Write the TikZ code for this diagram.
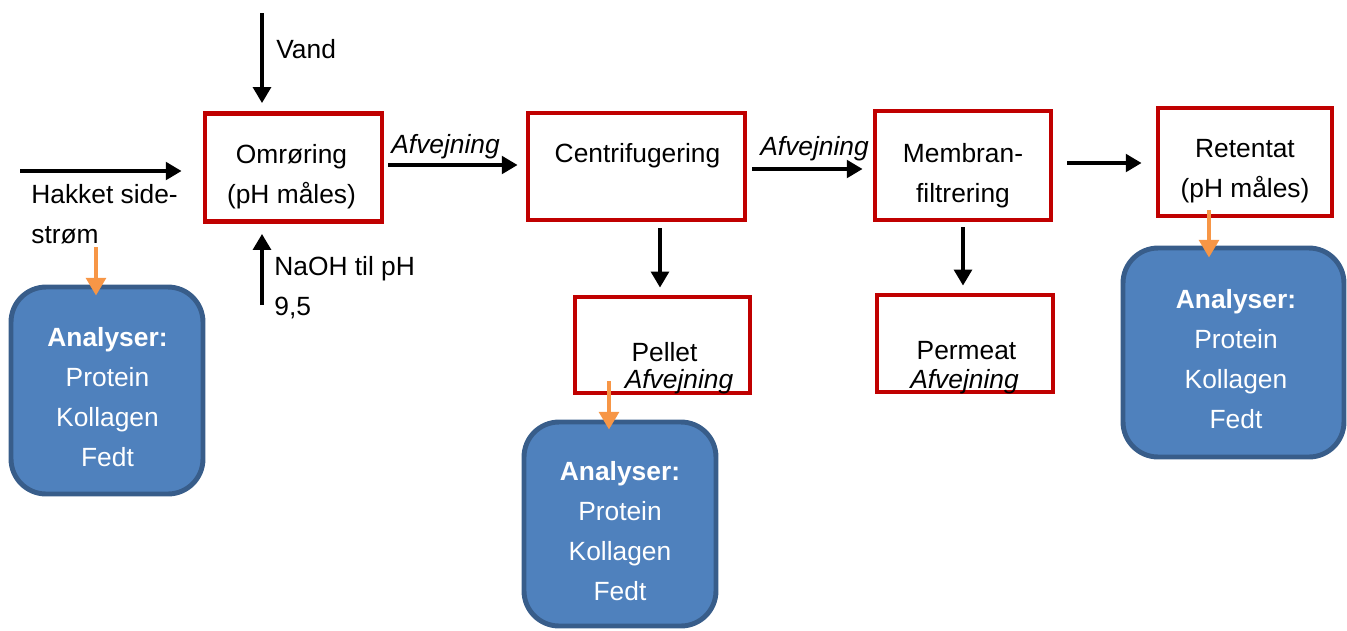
\documentclass[tikz,border=0pt]{standalone}
\usepackage{fontspec}
\setmainfont{Liberation Sans}
\usetikzlibrary{arrows.meta,calc}

\definecolor{boxred}{HTML}{C00000}
\definecolor{anfill}{HTML}{4F81BD}
\definecolor{anline}{HTML}{385D8A}
\definecolor{probe}{HTML}{F79646}

\begin{document}
\begin{tikzpicture}[x=0.02cm, y=-0.02cm, font=\fontsize{15}{22.7}\selectfont]

\useasboundingbox (0,0) rectangle (1347,630);

%% setup styles for the flow sheet
\tikzstyle{stepbox}=[draw=boxred, line width=2.8pt, inner sep=0pt]
\tikzstyle{anbox}=[draw=anline, fill=anfill, line width=2.8pt, rounded corners=0.7cm, inner sep=0pt]
\tikzstyle{antext}=[text=white, align=center, anchor=base, inner sep=0pt]
\tikzstyle{flow}=[line width=2.1pt, -{Triangle[length=9pt,width=10pt]}]
\tikzstyle{sample}=[draw=probe, line width=2.8pt, -{Triangle[length=10pt,width=11pt]}]
\tikzstyle{lbl}=[anchor=base west, inner sep=0pt, align=left]
\tikzstyle{ctr}=[anchor=base, inner sep=0pt, align=center]

%% process steps (red boxes)
\foreach \name/\x/\y/\w/\h in {omr/293.5/167.5/3.54/2.16,
cen/636.5/166.5/4.34/2.14,
mem/963/165.5/3.52/2.18,
ret/1245/162/3.48/2.16,
pel/662.5/345/3.50/1.92,
per/965/343.5/3.52/1.94}{
\node[stepbox, minimum width=\w cm, minimum height=\h cm] (\name) at (\x,\y) {};}

%% analysis boxes (blue), text placed on the baseline of its last line
\foreach \name/\x/\y/\w/\h in {an1/107/390.5/3.84/4.14,
an2/620/524/3.84/4.08,
an3/1233.5/352.5/4.42/4.18}{
\node[anbox, minimum width=\w cm, minimum height=\h cm] (\name) at (\x,\y) {};}

\foreach \name/\x/\y in {an1/107.5/466, an2/620/600, an3/1236/428}{
\node[antext] (\name-txt) at (\x,\y) {\textbf{Analyser:}\\Protein\\Kollagen\\Fedt};}

% texts in the process boxes
\node[ctr] (omr-txt) at (291.5,203) {Omrøring\\(pH måles)};
\node[ctr] (cen-txt) at (637.5,162) {Centrifugering};
\node[ctr] (mem-txt) at (963,202) {Membran-\\filtrering};
\node[ctr] (ret-txt) at (1245,197) {Retentat\\(pH måles)};
\node[ctr] (pel-txt) at (664.5,361) {Pellet};
\node[ctr] (pel-w) at (679,388) {\textit{Afvejning}};
\node[ctr] (per-txt) at (966.5,359) {Permeat};
\node[ctr] (per-w) at (964.5,388) {\textit{Afvejning}};

% free labels
\node[lbl] (vand-txt) at (276,58) {Vand};
\node[lbl] (naoh-txt) at (274,315) {NaOH til pH\\9,5};
\node[lbl] (hak-txt) at (31,243) {Hakket side-\\strøm};
\node[lbl] (w1) at (391,153) {\textit{Afvejning}};
\node[lbl] (w2) at (760,155) {\textit{Afvejning}};

%% feed streams
\coordinate (vand) at (262,13);
\coordinate (naoh) at (262,305);
\coordinate (hak) at (20,171);
\draw[flow, shorten >=0.16cm] (vand) -- (vand |- omr.north);
\draw[flow, shorten >=0.2cm] (naoh) -- (naoh |- omr.south);
\draw[flow, shorten >=0.42cm] (hak) -- (hak -| omr.west);

%% main line
\draw[flow, shorten <=0.08cm, shorten >=0.16cm] (omr.east |- 0,165) -- (cen.west |- 0,165);
\draw[flow, shorten <=0.1cm, shorten >=0.2cm] (cen.east |- 0,169) -- (mem.west |- 0,169);
\draw[flow, shorten <=0.28cm, shorten >=0.28cm] (mem.east |- 0,163) -- (ret.west |- 0,163);
\draw[flow, shorten <=0.12cm, shorten >=0.14cm] (cen.south -| 660,0) -- (pel.north -| 660,0);
\draw[flow, shorten <=0.1cm, shorten >=0.14cm] (mem.south) -- (mem.south |- per.north);

%% samples for analysis
\coordinate (hak-probe) at (96,247);
\draw[sample, shorten >=-0.22cm] (hak-probe) -- (hak-probe |- an1.north);
\draw[sample, shorten <=-0.28cm, shorten >=-0.2cm] (pel.south -| 609,0) -- (an2.north -| 609,0);
\draw[sample, shorten <=-0.16cm, shorten >=-0.24cm] (ret.south -| 1209,0) -- (an3.north -| 1209,0);

\end{tikzpicture}
\end{document}
